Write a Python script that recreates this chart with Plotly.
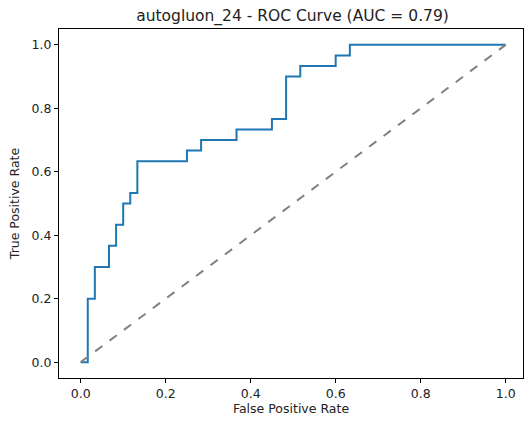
import plotly.graph_objects as go

# ROC curve corner points
fpr = [0, 1/60, 1/60, 2/60, 2/60, 4/60, 4/60, 5/60, 5/60, 6/60, 6/60, 7/60, 7/60, 8/60, 8/60,
       15/60, 15/60, 17/60, 17/60, 22/60, 22/60, 27/60, 27/60, 29/60, 29/60, 31/60, 31/60,
       36/60, 36/60, 38/60, 38/60, 1.0]
tpr = [0, 0, 6/30, 6/30, 9/30, 9/30, 11/30, 11/30, 13/30, 13/30, 15/30, 15/30, 16/30, 16/30, 19/30,
       19/30, 20/30, 20/30, 21/30, 21/30, 22/30, 22/30, 23/30, 23/30, 27/30, 27/30, 28/30,
       28/30, 29/30, 29/30, 1.0, 1.0]
diag_x = [0, 1]
diag_y = [0, 1]
tick_vals = [0.0, 0.2, 0.4, 0.6, 0.8, 1.0]
tick_text = ["0.0", "0.2", "0.4", "0.6", "0.8", "1.0"]
title = "autogluon_24 - ROC Curve (AUC = 0.79)"

fig = go.Figure()
fig.add_trace(go.Scatter(x=fpr, y=tpr, mode="lines",
                         line=dict(color="#1f77b4", width=2), showlegend=False))
fig.add_trace(go.Scatter(x=diag_x, y=diag_y, mode="lines",
                         line=dict(color="#808080", width=2, dash="dash"), showlegend=False))

axis_common = dict(showline=True, mirror=True, linecolor="black", linewidth=1,
                   ticks="outside", ticklen=4, tickcolor="black", tickwidth=1,
                   showgrid=False, zeroline=False,
                   tickvals=tick_vals, ticktext=tick_text,
                   tickfont=dict(family="DejaVu Sans", size=12.5, color="#222"),
                   title_font=dict(family="DejaVu Sans", size=12.5, color="#222"))

fig.update_layout(
    width=524, height=422,
    margin=dict(l=59, r=1, t=29, b=44),
    plot_bgcolor="white", paper_bgcolor="white",
    title=dict(text=title, x=292.5 / 524, xanchor="center", y=1 - 15.5 / 422, yanchor="middle",
               font=dict(family="DejaVu Sans", size=15.5, color="#222")),
    xaxis=dict(range=[-0.051, 1.0407], title=dict(text="False Positive Rate", standoff=2), **axis_common),
    yaxis=dict(range=[-0.05, 1.05], title=dict(text="True Positive Rate", standoff=9), **axis_common),
)

fig.write_html("out.html")
